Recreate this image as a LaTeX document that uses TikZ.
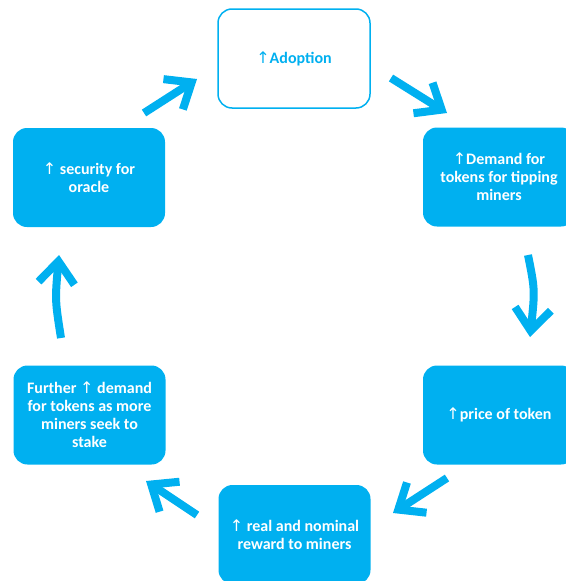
\documentclass[tikz,border=0pt]{standalone}
\usepackage{fontspec}
\setmainfont{Carlito}
\newfontfamily\arrfont{DejaVu Sans}
\newcommand{\uparr}{{\arrfont\mdseries ↑}}
\usetikzlibrary{arrows.meta}
\definecolor{skyblue}{RGB}{0,176,240}
\tikzset{
  box/.style={rectangle, rounded corners=14pt, fill=skyblue, text=white,
    minimum width=152pt, minimum height=99pt, align=center,
    font=\fontsize{16}{18}\selectfont\bfseries},
  openbox/.style={box, fill=white, draw=skyblue, line width=1.5pt, text=skyblue},
  flow/.style={draw=skyblue, line width=8pt, -{Straight Barb[length=22pt,width=36pt]}}
}
\begin{document}
\begin{tikzpicture}[x=1pt,y=-1pt]
  \useasboundingbox (0,0) rectangle (565,581);
  \node [openbox] (adopt) at (294,58.5) {\uparr Adoption};
  \node [box] (demand) at (499,177) {\uparr Demand for\\tokens for tipping\\miners};
  \node [box] (price) at (499,415) {\uparr price of token};
  \node [box] (reward) at (294.5,534.5) {\uparr{} real and nominal\\reward to miners};
  \node [box] (further) at (89.5,415) {Further \uparr{} demand\\for tokens as more\\miners seek to\\stake};
  \node [box] (security) at (89,177.5) {\uparr{} security for\\oracle};
  \coordinate (s1) at (144,113); \coordinate (e1) at (197,79);
  \coordinate (s2) at (391,78);  \coordinate (e2) at (447,113);
  \coordinate (s3) at (528,255); \coordinate (e3) at (530,337);
  \coordinate (s4) at (447,478); \coordinate (e4) at (393,513);
  \coordinate (s5) at (197,515); \coordinate (e5) at (146,481);
  \coordinate (s6) at (61,338);  \coordinate (e6) at (59,255);
  \draw [flow] (s1) -- (e1);
  \draw [flow] (s2) -- (e2);
  \draw [flow] (s3) .. controls (535,290) .. (e3);
  \draw [flow] (s4) -- (e4);
  \draw [flow] (s5) -- (e5);
  \draw [flow] (s6) .. controls (55,300) .. (e6);
\end{tikzpicture}
\end{document}
